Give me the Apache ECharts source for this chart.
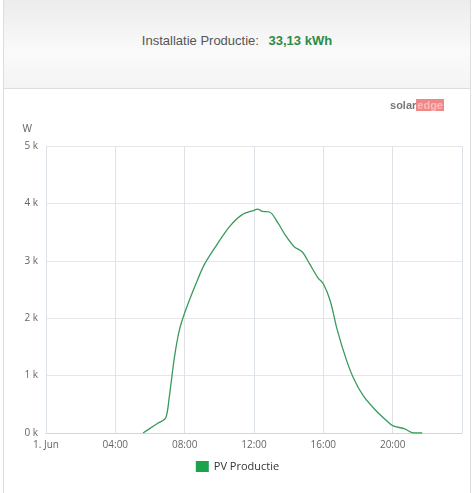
<!DOCTYPE html>
<html>
<head>
<meta charset="utf-8">
<script src="https://cdn.jsdelivr.net/npm/echarts@6/dist/echarts.min.js"></script>
<style>
  body { margin: 0; width: 475px; height: 493px; overflow: hidden; font-family: Arial, "Liberation Sans", sans-serif; background: #fff; }
  #head { position: absolute; left: 3px; right: 4px; top: 0; height: 88px; border-bottom: 1px solid #ddd;
          background: linear-gradient(#ececec, #fafafa 60%, #f4f4f4); border-left: 1px solid #ddd; border-right: 1px solid #ddd;
          text-align: center; line-height: 82px; font-size: 13px; color: #555; }
  #head b { color: #2e8b45; margin-left: 6px; }
  #wrap { position: absolute; left: 3px; right: 4px; top: 89px; bottom: 0; border-left: 1px solid #ddd; border-right: 1px solid #ddd; }
  #logo { position: absolute; right: 26px; top: 10px; font-size: 11px; font-weight: bold; color: #777; z-index: 2; }
  #logo span { background: #e88; color: #fbb; padding: 0 1px; }
  #chart { position: absolute; left: -4px; top: 0; width: 475px; height: 404px; }
</style>
</head>
<body>
<div id="head">Installatie Productie: <b>33,13 kWh</b></div>
<div id="wrap"><div id="logo">solar<span>edge</span></div><div id="chart"></div></div>
<script>
// hour of day, power in W
const hours = [0, 5.2, 5.6, 6.0, 6.45, 6.9, 7.1, 7.4, 7.7, 8.07, 8.65, 9.16, 9.9, 10.6, 11.3, 12.0, 12.2, 12.5, 12.9, 13.4, 13.8, 14.3, 14.8, 15.2, 15.7, 16.0, 16.4, 16.8, 17.3, 17.75, 18.3, 19.0, 19.7, 20.0, 20.7, 21.2, 21.7];
const power = [null, null, 0, 80, 170, 260, 600, 1300, 1800, 2150, 2600, 2950, 3300, 3600, 3800, 3880, 3900, 3860, 3850, 3650, 3450, 3250, 3150, 2950, 2700, 2600, 2300, 1800, 1300, 950, 650, 400, 200, 130, 70, 0, 0];
const tickLabels = ['1. Jun', '04:00', '08:00', '12:00', '16:00', '20:00'];

const chart = echarts.init(document.getElementById('chart'));
chart.setOption({
  animation: false,
  grid: { left: 46, right: 13, top: 57, bottom: 60 },
  legend: {
    bottom: 16, itemWidth: 13, itemHeight: 11, icon: 'rect',
    textStyle: { color: '#333', fontSize: 11, fontFamily: 'Open Sans' },
    data: ['PV Productie']
  },
  xAxis: {
    type: 'value', min: 0, max: 24, interval: 4,
    axisLine: { lineStyle: { color: '#ccd6eb' } },
    axisTick: { show: false },
    splitLine: { lineStyle: { color: '#dde2e8' } },
    axisLabel: { color: '#666', fontSize: 10, fontFamily: 'Open Sans', margin: 7,
      formatter: v => tickLabels[v / 4] || '' }
  },
  yAxis: {
    type: 'value', min: 0, max: 5000, interval: 1000,
    name: 'W', nameLocation: 'end', nameGap: 12,
    nameTextStyle: { color: '#666', fontSize: 10, align: 'right', padding: [0, 14, 0, 0] },
    axisLine: { show: false }, axisTick: { show: false },
    splitLine: { lineStyle: { color: '#e6e6e6' } },
    axisLabel: { color: '#666', fontSize: 10, fontFamily: 'Open Sans', formatter: v => (v / 1000) + ' k' }
  },
  series: [{
    name: 'PV Productie', type: 'line', smooth: 0.3, showSymbol: false,
    itemStyle: { color: '#1aa34a' },
    lineStyle: { color: '#3a9a5c', width: 1.3 },
    data: hours.map((h, i) => [h, power[i]])
  }]
});
</script>
</body>
</html>
